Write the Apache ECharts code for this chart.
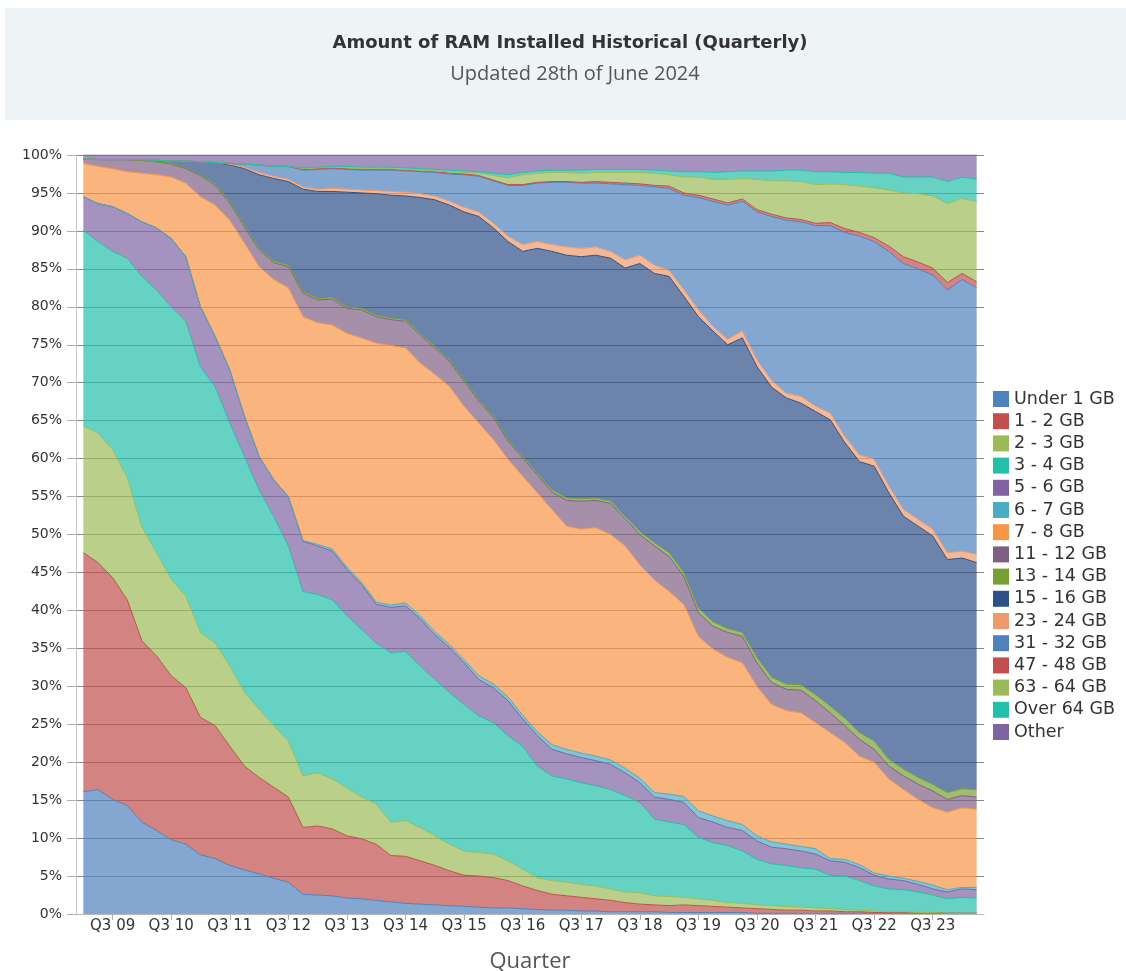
<!DOCTYPE html>
<html>
<head>
<meta charset="utf-8">
<script src="https://cdn.jsdelivr.net/npm/echarts@6/dist/echarts.min.js"></script>
<style>
html,body{margin:0;padding:0;background:#ffffff;}
#chart{width:1126px;height:971px;}
</style>
</head>
<body>
<div id="chart"></div>
<script>
const quarters = ["Q1 09","Q2 09","Q3 09","Q4 09","Q1 10","Q2 10","Q3 10","Q4 10","Q1 11","Q2 11","Q3 11","Q4 11","Q1 12","Q2 12","Q3 12","Q4 12","Q1 13","Q2 13","Q3 13","Q4 13","Q1 14","Q2 14","Q3 14","Q4 14","Q1 15","Q2 15","Q3 15","Q4 15","Q1 16","Q2 16","Q3 16","Q4 16","Q1 17","Q2 17","Q3 17","Q4 17","Q1 18","Q2 18","Q3 18","Q4 18","Q1 19","Q2 19","Q3 19","Q4 19","Q1 20","Q2 20","Q3 20","Q4 20","Q1 21","Q2 21","Q3 21","Q4 21","Q1 22","Q2 22","Q3 22","Q4 22","Q1 23","Q2 23","Q3 23","Q4 23","Q1 24","Q2 24"];

const seriesNames = ["Under 1 GB","1 - 2 GB","2 - 3 GB","3 - 4 GB","5 - 6 GB","6 - 7 GB","7 - 8 GB","11 - 12 GB","13 - 14 GB","15 - 16 GB","23 - 24 GB","31 - 32 GB","47 - 48 GB","63 - 64 GB","Over 64 GB","Other"];

const yTickLabels = ["0%","5%","10%","15%","20%","25%","30%","35%","40%","45%","50%","55%","60%","65%","70%","75%","80%","85%","90%","95%","100%"];

const under1 = [16.1,16.4,15.1,14.3,12.1,11.0,9.8,9.2,7.8,7.3, 6.4,5.8,5.3,4.7,4.2,2.6,2.5,2.4,2.1,2.0, 1.8,1.6,1.4,1.3,1.2,1.1,1.0,0.9,0.8,0.8, 0.7,0.6,0.5,0.5,0.4,0.4,0.3,0.3,0.3,0.3, 0.2,0.2,0.2,0.2,0.2,0.2,0.1,0.1,0.1,0.1, 0.1,0.1,0.1,0.1,0.1,0.1,0.1,0.1,0.1,0.1, 0.1,0.1];
const gb1to2 = [31.5,29.9,29.2,27.1,23.9,23.0,21.6,20.6,18.1,17.5, 15.7,13.7,12.7,12.0,11.2,8.8,9.1,8.8,8.2,7.9, 7.4,6.1,6.2,5.7,5.2,4.6,4.1,4.1,4.0,3.6, 3.0,2.5,2.1,1.9,1.8,1.6,1.5,1.2,1.0,0.9, 0.9,1.0,0.9,0.8,0.7,0.6,0.6,0.5,0.4,0.4, 0.3,0.3,0.2,0.2,0.1,0.1,0.1,0.1,0.1,0.0, 0.0,0.0];
const gb2to3 = [16.7,17.1,16.9,16.1,15.0,13.6,12.7,12.1,11.2,10.9, 10.6,9.7,9.0,8.1,7.4,6.8,7.0,6.6,6.3,5.5, 5.3,4.4,4.7,4.4,3.9,3.5,3.2,3.1,3.1,2.6, 2.2,1.7,1.8,1.8,1.7,1.7,1.5,1.4,1.5,1.2, 1.2,1.0,0.9,0.8,0.6,0.6,0.5,0.5,0.5,0.4, 0.4,0.3,0.3,0.2,0.2,0.1,0.1,0.0,0.0,0.0, 0.0,0.0];
const gb3to4 = [25.8,25.2,26.1,28.9,33.0,34.6,35.9,36.2,35.0,33.8, 32.0,31.1,28.9,27.6,25.7,24.3,23.5,23.6,22.7,22.1, 21.2,22.3,22.3,21.3,20.6,20.0,19.3,18.0,17.3,16.5, 16.2,14.7,13.8,13.6,13.4,13.2,13.1,12.7,11.9,10.1, 9.8,9.6,8.1,7.6,7.5,6.9,6.0,5.5,5.4,5.2, 5.1,4.4,4.4,3.9,3.3,3.0,2.9,2.7,2.3,1.9, 2.1,2.0];
const gb5to6 = [4.4,5.0,5.9,5.9,7.2,8.2,9.0,8.5,7.9,6.6, 7.0,5.3,4.4,4.8,6.5,6.6,6.4,6.4,6.1,5.9, 5.1,6.0,6.0,6.2,5.9,5.9,5.5,4.8,4.6,4.6, 3.6,4.0,3.5,3.3,3.3,3.3,3.3,3.0,2.6,2.9, 3.0,2.9,2.6,2.7,2.4,2.7,2.4,2.2,2.2,2.2, 2.0,1.9,1.8,1.7,1.4,1.3,1.2,1.0,0.8,0.9, 1.1,1.1];
const gb6to7 = [0,0,0,0,0,0,0,0,0,0, 0,0,0,0,0,0.1,0.2,0.3,0.3,0.3, 0.3,0.3,0.4,0.4,0.4,0.4,0.4,0.5,0.5,0.5, 0.5,0.5,0.6,0.6,0.6,0.6,0.6,0.6,0.6,0.6, 0.7,0.8,0.9,0.8,0.9,0.8,0.7,0.7,0.6,0.6, 0.7,0.3,0.4,0.4,0.3,0.4,0.3,0.4,0.5,0.3, 0.2,0.3];
const gb7to8 = [4.4,4.9,5.0,5.5,6.4,7.0,8.1,9.7,14.5,17.3, 19.7,22.8,25.0,26.4,27.5,29.5,29.2,29.5,30.8,32.2, 34.1,34.2,33.6,33.3,33.9,34.0,33.4,33.3,32.2,31.3, 31.5,31.5,31.0,29.4,29.5,30.1,29.7,29.3,28.1,28.0, 26.7,25.3,23.0,22.0,21.5,21.3,19.7,18.1,17.6,17.6, 16.6,16.6,15.4,14.3,14.6,12.8,11.7,10.8,10.2,10.2, 10.5,10.3];
const gb11to12 = [0.6,0.9,1.2,1.6,1.7,1.7,1.7,1.9,2.8,2.6, 2.3,2.1,2.2,2.2,2.8,3.1,3.0,3.4,3.3,3.7, 3.5,3.4,3.5,3.7,3.5,3.3,3.3,2.9,2.9,2.4, 2.4,2.4,2.3,3.4,3.7,3.6,4.1,3.6,4.0,4.5, 4.6,3.7,3.1,3.0,3.3,3.5,3.1,2.9,2.8,3.0, 2.9,2.6,2.2,2.2,1.7,1.7,1.8,2.0,2.2,1.7, 1.6,1.6];
const gb13to14 = [0,0,0,0,0,0,0.1,0.1,0.1,0.2, 0.2,0.2,0.2,0.2,0.2,0.2,0.2,0.2,0.2,0.2, 0.2,0.2,0.2,0.2,0.2,0.2,0.2,0.2,0.2,0.2, 0.2,0.2,0.3,0.3,0.3,0.3,0.3,0.3,0.4,0.4, 0.5,0.5,0.6,0.6,0.5,0.5,0.7,0.7,0.7,0.7, 0.8,0.9,1.0,0.9,1.1,0.9,0.9,0.9,0.9,0.9, 0.9,1.0];
const gb15to16 = [0,0,0,0,0.1,0.2,0.3,0.9,1.7,2.8, 4.8,7.5,9.7,10.9,11.0,13.5,14.1,14.0,15.1,15.2, 16.0,16.2,16.3,17.9,19.3,20.4,22.1,24.1,24.8,26.1, 27.0,29.6,31.4,32.0,31.9,32.0,32.0,32.7,35.3,35.5, 36.4,36.4,38.4,38.3,37.4,38.8,38.3,38.2,37.7,37.1, 37.3,37.7,36.3,35.7,36.2,35.1,33.3,33.1,32.7,30.7, 30.4,29.9];
const gb23to24 = [0,0,0,0,0,0,0,0,0,0, 0.1,0.2,0.3,0.3,0.3,0.3,0.3,0.4,0.4,0.4, 0.4,0.5,0.5,0.5,0.5,0.5,0.6,0.6,0.6,0.7, 0.9,0.9,0.9,1.1,1.1,1.1,0.9,1.1,1.1,1.1, 0.8,0.9,0.9,0.6,0.7,0.9,0.9,0.9,0.6,0.9, 0.7,0.9,0.8,0.9,0.9,0.9,0.9,0.9,0.9,0.9, 0.9,1.1];
const gb31to32 = [0,0,0,0,0,0,0,0,0,0, 0.1,0.4,1.0,1.3,1.7,2.2,2.6,2.6,2.6,2.6, 2.7,2.8,2.8,2.9,3.1,3.6,4.3,4.7,5.6,6.7, 7.8,7.7,8.2,8.5,8.6,8.4,8.9,9.9,9.2,10.3, 10.8,12.4,14.8,16.5,17.7,17.1,19.5,21.6,22.8,23.0, 23.8,24.7,26.9,28.8,28.7,30.9,32.4,33.0,33.5,34.6, 35.8,35.1];
const gb47to48 = [0,0,0,0,0,0,0,0,0,0, 0,0,0,0,0,0.1,0.1,0.1,0.1,0.1, 0.1,0.1,0.1,0.1,0.1,0.1,0.1,0.1,0.1,0.1, 0.1,0.1,0.1,0.1,0.1,0.2,0.2,0.2,0.2,0.2, 0.3,0.3,0.3,0.3,0.3,0.3,0.3,0.3,0.3,0.3, 0.3,0.4,0.5,0.5,0.5,0.7,0.9,0.9,0.9,1.0, 0.8,0.8];
const gb63to64 = [0,0,0,0,0,0,0,0,0,0, 0,0,0,0,0,0.1,0.1,0.1,0.1,0.1, 0.1,0.1,0.1,0.1,0.1,0.2,0.2,0.3,0.6,0.9, 1.3,1.2,1.2,1.2,1.2,1.2,1.3,1.4,1.5,1.6, 1.5,2.1,2.4,2.6,3.1,2.7,4.0,4.4,4.9,5.0, 5.1,5.1,5.8,6.1,6.6,7.4,8.4,9.0,9.5,10.4, 9.9,10.6];
const over64 = [0,0,0,0,0,0,0,0,0,0, 0,0,0,0,0,0.1,0.1,0.1,0.2,0.2, 0.2,0.2,0.2,0.2,0.2,0.2,0.2,0.2,0.3,0.4, 0.3,0.3,0.3,0.3,0.4,0.4,0.4,0.4,0.4,0.4, 0.5,0.7,0.7,0.9,1.0,1.0,1.1,1.3,1.4,1.5, 1.7,1.6,1.6,1.8,1.9,2.2,2.1,2.2,2.5,2.9, 2.8,2.9];
const other = [0.5,0.6,0.6,0.6,0.6,0.7,0.8,0.8,0.9,1.0, 1.1,1.2,1.3,1.5,1.5,1.7,1.6,1.5,1.5,1.6, 1.6,1.6,1.7,1.8,1.9,2.0,2.1,2.2,2.4,2.6, 2.3,2.1,2.0,2.0,2.0,1.9,1.9,1.9,1.9,2.0, 2.1,2.2,2.2,2.3,2.2,2.1,2.1,2.1,2.0,2.0, 2.2,2.2,2.3,2.3,2.4,2.4,2.9,2.9,2.9,3.5, 2.9,3.2];

const seriesValues = [under1, gb1to2, gb2to3, gb3to4, gb5to6, gb6to7, gb7to8, gb11to12, gb13to14, gb15to16, gb23to24, gb31to32, gb47to48, gb63to64, over64, other];
const seriesColors = ["#4F81BD","#C0504D","#9BBB59","#23BFAA","#8064A2","#4BACC6","#F79646","#7F6084","#77A033","#2E5088","#EE9A6B","#4F81BD","#C0504D","#9BBB59","#23BFAA","#8064A2"];

const chart = echarts.init(document.getElementById('chart'), null, {renderer: 'canvas'});

const isQ3 = (i, v) => v.indexOf('Q3') === 0;

const option = {
  backgroundColor: '#ffffff',
  animation: false,
  graphic: [
    {type: 'rect', z: -10, shape: {x: 5, y: 8, width: 1121, height: 112}, style: {fill: '#EEF3F6'}}
  ],
  title: [
    {text: 'Amount of RAM Installed Historical (Quarterly)', left: 570, top: 34, textAlign: 'center', padding: 0,
     textStyle: {fontFamily: 'DejaVu Sans', fontWeight: 'bold', fontSize: 18, color: '#333333'}},
    {text: 'Updated 28th of June 2024', left: 575, top: 64, textAlign: 'center', padding: 0,
     textStyle: {fontFamily: 'Open Sans', fontWeight: 'normal', fontSize: 20, color: '#555555'}}
  ],
  legend: {
    orient: 'vertical', left: 993, top: 390,
    itemWidth: 16, itemHeight: 16, itemGap: 4.2, itemTextGap: 6,
    icon: 'rect', padding: 0,
    data: seriesNames,
    textStyle: {fontFamily: 'DejaVu Sans', fontSize: 17.5, color: '#333333'}
  },
  grid: {left: 76, right: 142, top: 155, bottom: 57, containLabel: false, outerBoundsMode: 'none'},
  xAxis: {
    type: 'category', data: quarters, boundaryGap: true,
    name: 'Quarter', nameLocation: 'middle', nameGap: 37,
    nameTextStyle: {fontFamily: 'Open Sans', fontSize: 22, color: '#555555'},
    axisLine: {show: true, lineStyle: {color: '#b8b8b8', width: 1}},
    axisTick: {show: true, length: 6, alignWithLabel: true, interval: isQ3, lineStyle: {color: '#b0b0b0'}},
    axisLabel: {interval: isQ3, fontFamily: 'DejaVu Sans', fontSize: 15, color: '#333333', margin: 5},
    splitLine: {show: false}
  },
  yAxis: {
    type: 'value', min: 0, max: 100, interval: 5,
    axisLine: {show: true, lineStyle: {color: '#c8c8c8', width: 1}},
    axisTick: {show: true, length: 9, lineStyle: {color: '#b0b0b0'}},
    axisLabel: {formatter: (v) => yTickLabels[Math.round(v / 5)], fontFamily: 'DejaVu Sans', fontSize: 14, color: '#333333', margin: 14},
    splitLine: {show: true, lineStyle: {color: '#8a8a8a', width: 1}}
  },
  series: seriesNames.map((name, k) => ({
    name: name, type: 'line', stack: 'ram', data: seriesValues[k],
    symbol: 'none', showSymbol: false, smooth: false,
    lineStyle: {width: 1, color: seriesColors[k]},
    itemStyle: {color: seriesColors[k]},
    areaStyle: {color: seriesColors[k], opacity: 0.7},
    emphasis: {disabled: true}
  }))
};
chart.setOption(option);
</script>
</body>
</html>
